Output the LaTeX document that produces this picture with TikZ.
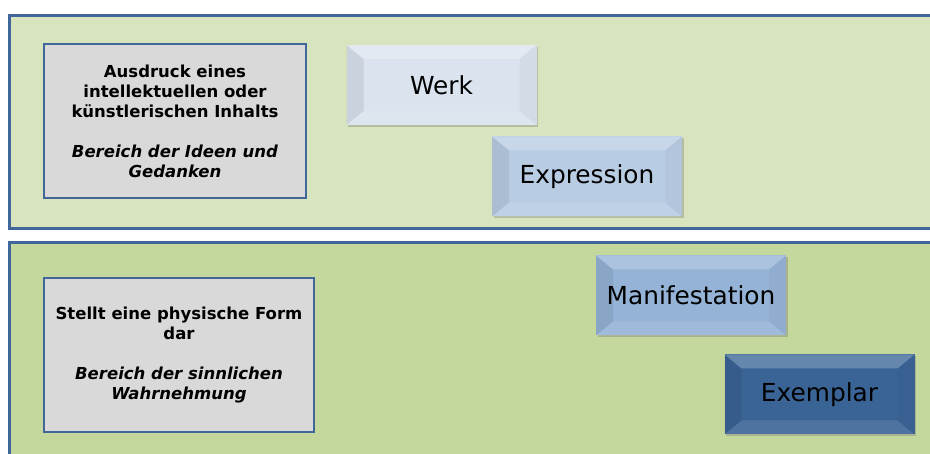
\documentclass[tikz,border=0pt]{standalone}
\usepackage{fontspec}
\setmainfont{DejaVu Sans}
\usetikzlibrary{shadows}

\definecolor{frameblue}{HTML}{41679A}
\definecolor{bandtop}{HTML}{D8E4BD}
\definecolor{bandbottom}{HTML}{C4D79C}
\definecolor{notegray}{HTML}{D9D9D9}
\definecolor{werkblue}{HTML}{DAE3EE}
\definecolor{exprblue}{HTML}{B8CCE4}
\definecolor{maniblue}{HTML}{95B3D7}
\definecolor{exemblue}{HTML}{3A6496}

\tikzset{
  band/.style={draw=frameblue, line width=3pt},
  notebox/.style={draw=frameblue, line width=2pt, fill=notegray,
    minimum height=154pt, align=center, inner sep=0pt,
    font=\fontsize{16.5}{20}\selectfont\bfseries},
  bevelbox/.style={minimum width=190pt, minimum height=80pt, inner sep=0pt,
    fill=#1, font=\fontsize{24.8}{28}\selectfont,
    drop shadow={shadow xshift=1.5pt, shadow yshift=-2pt, opacity=.3, fill=black!60},
    path picture={
      \path (path picture bounding box.north west) coordinate (bnw)
            (path picture bounding box.north east) coordinate (bne)
            (path picture bounding box.south west) coordinate (bsw)
            (path picture bounding box.south east) coordinate (bse);
      % bevel faces
      \fill[white, opacity=.22] (bnw) -- (bne) -- ([shift={(-17pt,-14pt)}]bne) -- ([shift={(17pt,-14pt)}]bnw) -- cycle;
      \fill[black, opacity=.07] (bnw) -- ([shift={(17pt,-14pt)}]bnw) -- ([shift={(17pt,14pt)}]bsw) -- (bsw) -- cycle;
      \fill[white, opacity=.10] (bsw) -- ([shift={(17pt,14pt)}]bsw) -- ([shift={(-17pt,14pt)}]bse) -- (bse) -- cycle;
      \fill[black, opacity=.03] (bne) -- (bse) -- ([shift={(-17pt,14pt)}]bse) -- ([shift={(-17pt,-14pt)}]bne) -- cycle;
    }},
}

\begin{document}
\begin{tikzpicture}[x=1pt, y=-1pt]
  \useasboundingbox (0,0) rectangle (930,454);
  \clip (0,0) rectangle (930,454);
  \fill[white] (0,0) rectangle (930,454);

  % the two bands
  \draw[band, fill=bandtop] (9,16) rectangle (945,229);
  \draw[band, fill=bandbottom] (9,243) rectangle (945,470);

  % explanatory boxes
  \node[notebox, minimum width=262pt] (idee) at (175,121)
    {Ausdruck eines\\ intellektuellen oder\\ künstlerischen Inhalts\\[20pt]
     \itshape Bereich der Ideen und\\ \itshape Gedanken};
  \node[notebox, minimum width=270pt] (form) at (179,355)
    {Stellt eine physische Form\\ dar\\[20pt]
     \itshape Bereich der sinnlichen\\ \itshape Wahrnehmung};

  % entities
  \node[bevelbox=werkblue] (werk) at (441.5,85) {Werk};
  \node[bevelbox=exprblue] (expr) at (587,176.5) {Expression};
  \node[bevelbox=maniblue] (mani) at (691,295.5) {Manifestation};
  \node[bevelbox=exemblue] (exem) at (819.5,394.5) {Exemplar};
\end{tikzpicture}
\end{document}
